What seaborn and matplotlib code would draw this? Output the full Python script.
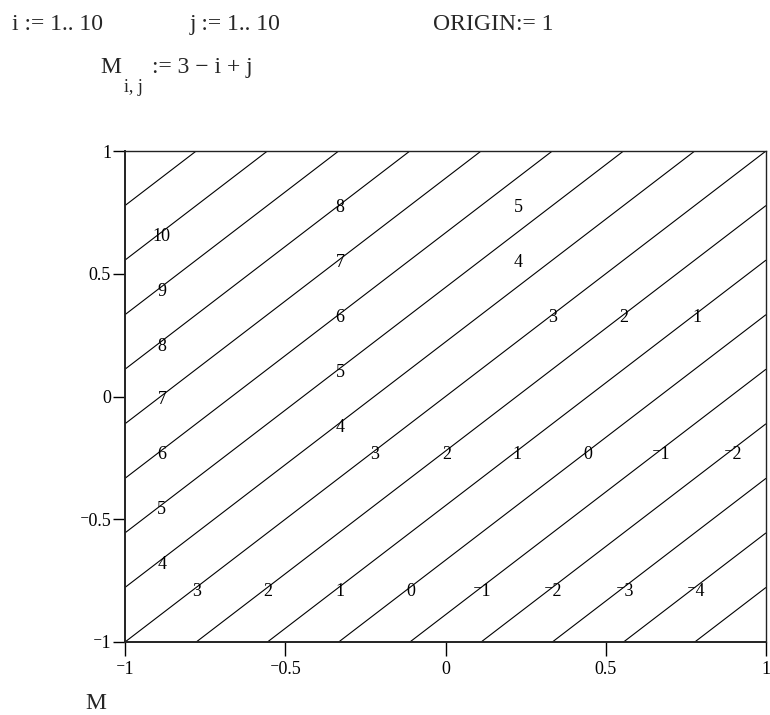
import numpy as np
import matplotlib.pyplot as plt
import seaborn as sns

# matrix M[i, j] = 3 - i + j, rows i = 1..10, columns j = 1..10
i_index = [1, 2, 3, 4, 5, 6, 7, 8, 9, 10]
j_index = [1, 2, 3, 4, 5, 6, 7, 8, 9, 10]
M = [
    [3, 4, 5, 6, 7, 8, 9, 10, 11, 12],
    [2, 3, 4, 5, 6, 7, 8, 9, 10, 11],
    [1, 2, 3, 4, 5, 6, 7, 8, 9, 10],
    [0, 1, 2, 3, 4, 5, 6, 7, 8, 9],
    [-1, 0, 1, 2, 3, 4, 5, 6, 7, 8],
    [-2, -1, 0, 1, 2, 3, 4, 5, 6, 7],
    [-3, -2, -1, 0, 1, 2, 3, 4, 5, 6],
    [-4, -3, -2, -1, 0, 1, 2, 3, 4, 5],
    [-5, -4, -3, -2, -1, 0, 1, 2, 3, 4],
    [-6, -5, -4, -3, -2, -1, 0, 1, 2, 3],
]
contour_levels = [-5, -4, -3, -2, -1, 0, 1, 2, 3, 4, 5, 6, 7, 8, 9, 10, 11]
tick_values = [-1, -0.5, 0, 0.5, 1]

# where the level labels sit (data coords), Mathcad style grid of labels
label_spots = [
    (-0.885, 0.650), (-0.885, 0.426), (-0.885, 0.202), (-0.885, -0.014),
    (-0.885, -0.238), (-0.885, -0.462), (-0.885, -0.686),
    (-0.778, -0.796), (-0.554, -0.796), (-0.329, -0.796), (-0.108, -0.796),
    (0.114, -0.796), (0.335, -0.796), (0.560, -0.796), (0.782, -0.796),
    (-0.329, 0.768), (-0.329, 0.544), (-0.329, 0.320), (-0.329, 0.096),
    (-0.329, -0.128),
    (-0.220, -0.238), (0.005, -0.238), (0.223, -0.238), (0.445, -0.238),
    (0.672, -0.238), (0.897, -0.238),
    (0.226, 0.768), (0.226, 0.544),
    (0.335, 0.320), (0.557, 0.320), (0.785, 0.320),
]

sns.set_style("white")
plt.rcParams['font.family'] = ['Liberation Serif', 'DejaVu Serif']
plt.rcParams['axes.unicode_minus'] = False


def mcad_num(v):
    s = f"{abs(v):g}"
    return ("\u207b" + s) if v < 0 else s


fig = plt.figure(figsize=(7.7, 7.15), dpi=100)
ax = fig.add_axes([125 / 770, 1 - 642 / 715, 641 / 770, 491 / 715])

x = np.linspace(-1, 1, len(i_index))
y = np.linspace(-1, 1, len(j_index))
Z = np.array(M).T  # rows -> x, columns -> y

cs = ax.contour(x, y, Z, levels=contour_levels, colors="black",
                linewidths=0.8, linestyles="solid")
labels = ax.clabel(cs, manual=label_spots, inline=False, fmt=mcad_num,
                   fontsize=13, colors="black")
# clabel snaps onto the line; put each label back where Mathcad draws it
for t, spot in zip(labels, label_spots):
    t.set_rotation(0)
    t.set_position(spot)
    t.set_ha("center")
    t.set_va("center")

ax.set_xlim(-1, 1)
ax.set_ylim(-1, 1)
ax.set_xticks(tick_values)
ax.set_yticks(tick_values)
ax.set_xticklabels([mcad_num(v) for v in tick_values])
ax.set_yticklabels([mcad_num(v) for v in tick_values])
ax.tick_params(axis="x", direction="out", length=10, width=1, pad=4,
               labelsize=13, bottom=True, colors="black")
ax.tick_params(axis="y", direction="out", length=9, width=1, pad=1,
               labelsize=13, left=True, colors="black")
for side, sp in ax.spines.items():
    sp.set_visible(True)
    sp.set_color("#222222")
    sp.set_linewidth(1.4 if side in ("left", "bottom") else 1.0)

# worksheet text around the plot
fig.text(12 / 770, 1 - 30 / 715, "i := 1.. 10", fontsize=17, va="baseline")
fig.text(190 / 770, 1 - 30 / 715, "j := 1.. 10", fontsize=17, va="baseline")
fig.text(433 / 770, 1 - 30 / 715, "ORIGIN:= 1", fontsize=17, va="baseline")
fig.text(100 / 770, 1 - 73 / 715, "M", fontsize=17, va="baseline")
fig.text(124 / 770, 1 - 92 / 715, "i, j", fontsize=13, va="baseline")
fig.text(152 / 770, 1 - 73 / 715, ":= 3 \u2212 i + j", fontsize=17, va="baseline")
fig.text(85 / 770, 1 - 709 / 715, "M", fontsize=17, va="baseline")

fig.savefig("out.png", dpi=100)
